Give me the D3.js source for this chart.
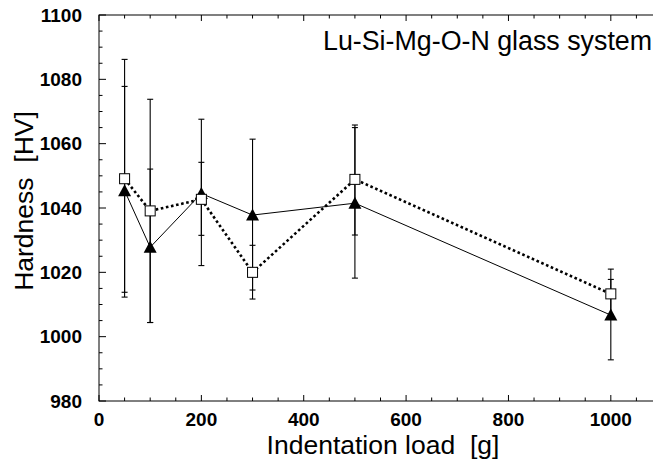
<!DOCTYPE html>
<html>
<head>
<meta charset="utf-8">
<script src="https://cdn.jsdelivr.net/npm/d3@7"></script>
<style>
  body { margin: 0; background: #fff; }
  svg { display: block; font-family: "Liberation Sans", Arial, sans-serif; }
  text { white-space: pre; }
</style>
</head>
<body>
<div id="chart"></div>
<script>
// data
const loads = [50, 100, 200, 300, 500, 1000];
// filled triangles, solid line
const triHard = [1045.4, 1027.8, 1044.5, 1037.8, 1041.5, 1006.7];
const triLow  = [1013.8, 1004.4, 1031.5, 1014.5, 1018.2, 992.8];
const triHigh = [1077.8, 1052.1, 1054.2, 1061.4, 1065.0, 1017.8];
// open squares, dotted line
const sqHard = [1049.1, 1039.1, 1042.7, 1020.0, 1048.9, 1013.3];
const sqLow  = [1012.3, 1004.4, 1022.1, 1011.7, 1031.6, 1005.6];
const sqHigh = [1086.2, 1073.8, 1067.6, 1028.4, 1065.8, 1021.0];

const xTicks = [0, 200, 400, 600, 800, 1000];
const yTicks = [980, 1000, 1020, 1040, 1060, 1080, 1100];

// layout
const width = 653, height = 466;
const plot = { left: 99, top: 15, right: 662, bottom: 401 };

const svg = d3.select("#chart").append("svg")
    .attr("width", width)
    .attr("height", height);

const x = d3.scaleLinear().domain([0, 1100]).range([plot.left, plot.right]);
const y = d3.scaleLinear().domain([980, 1100]).range([plot.bottom, plot.top]);

// frame
svg.append("rect")
    .attr("x", plot.left).attr("y", plot.top)
    .attr("width", plot.right - plot.left).attr("height", plot.bottom - plot.top)
    .attr("fill", "none").attr("stroke", "#000").attr("stroke-width", 1);

// ticks (inward) on all sides
const xMinor = d3.range(0, 1101, 50);
const yMinor = d3.range(980, 1101, 5);
const tickG = svg.append("g").attr("stroke", "#000").attr("stroke-width", 1);

tickG.selectAll(".xb").data(xMinor).enter().append("line")
    .attr("x1", d => x(d)).attr("x2", d => x(d))
    .attr("y1", plot.bottom).attr("y2", d => plot.bottom - (d % 200 === 0 ? 6 : 3.5));
tickG.selectAll(".xt").data(xMinor).enter().append("line")
    .attr("x1", d => x(d)).attr("x2", d => x(d))
    .attr("y1", plot.top).attr("y2", d => plot.top + (d % 200 === 0 ? 6 : 3.5));
tickG.selectAll(".yl").data(yMinor).enter().append("line")
    .attr("y1", d => y(d)).attr("y2", d => y(d))
    .attr("x1", plot.left).attr("x2", d => plot.left + (d % 20 === 0 ? 7 : 3.5));

// tick labels
svg.append("g").selectAll("text").data(xTicks).enter().append("text")
    .attr("x", d => x(d)).attr("y", 425.5)
    .attr("text-anchor", "middle")
    .style("font-size", "19px").style("font-weight", "bold")
    .text(d => d);

svg.append("g").selectAll("text").data(yTicks).enter().append("text")
    .attr("x", 82).attr("y", d => y(d) + 6.7)
    .attr("text-anchor", "end")
    .style("font-size", "19px").style("font-weight", "bold")
    .text(d => d);

// axis labels
svg.append("text")
    .attr("x", 383).attr("y", 453.5)
    .attr("text-anchor", "middle")
    .style("font-size", "26.5px")
    .text("Indentation load  [g]");

svg.append("text")
    .attr("transform", "translate(33, 201) rotate(-90)")
    .attr("text-anchor", "middle")
    .style("font-size", "26.5px")
    .text("Hardness  [HV]");

svg.append("text")
    .attr("x", 323).attr("y", 50)
    .style("font-size", "26.8px")
    .text("Lu-Si-Mg-O-N glass system");

// series
const tri = loads.map((d, i) => ({ load: d, h: triHard[i], lo: triLow[i], hi: triHigh[i] }));
const sq = loads.map((d, i) => ({ load: d, h: sqHard[i], lo: sqLow[i], hi: sqHigh[i] }));

const line = d3.line().x(d => x(d.load)).y(d => y(d.h));

function errorBars(data) {
    const g = svg.append("g").attr("stroke", "#000").attr("stroke-width", 1.1);
    g.selectAll(".bar").data(data).enter().append("line")
        .attr("x1", d => x(d.load)).attr("x2", d => x(d.load))
        .attr("y1", d => y(d.lo)).attr("y2", d => y(d.hi));
    g.selectAll(".capl").data(data).enter().append("line")
        .attr("x1", d => x(d.load) - 3).attr("x2", d => x(d.load) + 3)
        .attr("y1", d => y(d.lo)).attr("y2", d => y(d.lo));
    g.selectAll(".caph").data(data).enter().append("line")
        .attr("x1", d => x(d.load) - 3).attr("x2", d => x(d.load) + 3)
        .attr("y1", d => y(d.hi)).attr("y2", d => y(d.hi));
}
errorBars(tri);
errorBars(sq);

svg.append("path").datum(tri)
    .attr("d", line)
    .attr("fill", "none").attr("stroke", "#000").attr("stroke-width", 1);

svg.append("path").datum(sq)
    .attr("d", line)
    .attr("fill", "none").attr("stroke", "#000").attr("stroke-width", 2.6)
    .attr("stroke-dasharray", "2.6,2.6");

// markers
svg.append("g").selectAll("path").data(tri).enter().append("path")
    .attr("transform", d => `translate(${x(d.load)}, ${y(d.h)})`)
    .attr("d", "M0,-6.5L6.5,5.5L-6.5,5.5Z")
    .attr("fill", "#000");

svg.append("g").selectAll("rect").data(sq).enter().append("rect")
    .attr("x", d => x(d.load) - 5).attr("y", d => y(d.h) - 5)
    .attr("width", 10).attr("height", 10)
    .attr("fill", "#fff").attr("stroke", "#000").attr("stroke-width", 1);
</script>
</body>
</html>
